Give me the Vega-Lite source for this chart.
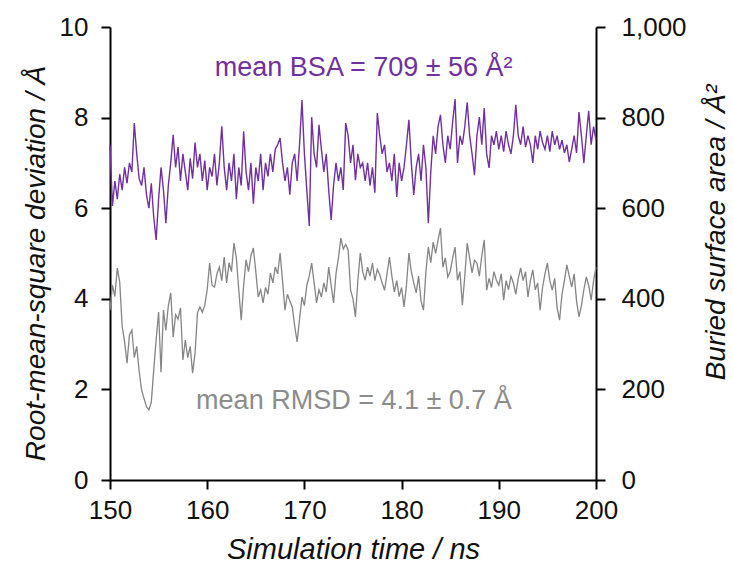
{
  "$schema": "https://vega.github.io/schema/vega-lite/v6.json",
  "width": 486,
  "height": 453,
  "autosize": "none",
  "padding": {"left": 110, "top": 27, "right": 137, "bottom": 86},
  "background": "white",
  "config": {
    "view": {"stroke": null},
    "axis": {
      "grid": false,
      "domainColor": "#000000",
      "domainWidth": 2,
      "tickColor": "#000000",
      "tickWidth": 2,
      "tickSize": 9,
      "labelFont": "Liberation Sans",
      "labelFontSize": 26,
      "labelColor": "#111111",
      "labelFlush": false,
      "labelOverlap": false,
      "titleFont": "Liberation Sans",
      "titleFontSize": 28,
      "titleFontStyle": "italic",
      "titleFontWeight": "normal",
      "titleColor": "#111111"
    }
  },
  "data": {"values": [
    {"t":150.00,"rmsd":3.75,"bsa":740},{"t":150.25,"rmsd":4.30,"bsa":605},{"t":150.50,"rmsd":4.05,"bsa":660},{"t":150.75,"rmsd":4.68,"bsa":620},
    {"t":151.00,"rmsd":4.37,"bsa":675},{"t":151.25,"rmsd":3.40,"bsa":640},{"t":151.50,"rmsd":3.05,"bsa":690},{"t":151.75,"rmsd":2.58,"bsa":655},
    {"t":152.00,"rmsd":3.20,"bsa":700},{"t":152.25,"rmsd":3.31,"bsa":680},{"t":152.50,"rmsd":2.70,"bsa":788},{"t":152.75,"rmsd":2.95,"bsa":720},
    {"t":153.00,"rmsd":2.40,"bsa":665},{"t":153.25,"rmsd":1.99,"bsa":650},{"t":153.50,"rmsd":1.80,"bsa":690},{"t":153.75,"rmsd":1.62,"bsa":630},
    {"t":154.00,"rmsd":1.55,"bsa":600},{"t":154.25,"rmsd":1.72,"bsa":655},{"t":154.50,"rmsd":2.43,"bsa":580},{"t":154.75,"rmsd":3.10,"bsa":530},
    {"t":155.00,"rmsd":3.71,"bsa":620},{"t":155.25,"rmsd":2.38,"bsa":690},{"t":155.50,"rmsd":3.75,"bsa":640},{"t":155.75,"rmsd":3.30,"bsa":567},
    {"t":156.00,"rmsd":3.85,"bsa":650},{"t":156.25,"rmsd":4.13,"bsa":700},{"t":156.50,"rmsd":3.16,"bsa":762},{"t":156.75,"rmsd":3.65,"bsa":690},
    {"t":157.00,"rmsd":3.55,"bsa":735},{"t":157.25,"rmsd":3.80,"bsa":660},{"t":157.50,"rmsd":2.65,"bsa":720},{"t":157.75,"rmsd":3.09,"bsa":680},
    {"t":158.00,"rmsd":2.70,"bsa":640},{"t":158.25,"rmsd":2.95,"bsa":710},{"t":158.50,"rmsd":2.36,"bsa":665},{"t":158.75,"rmsd":2.80,"bsa":745},
    {"t":159.00,"rmsd":3.69,"bsa":690},{"t":159.25,"rmsd":3.82,"bsa":720},{"t":159.50,"rmsd":3.70,"bsa":660},{"t":159.75,"rmsd":3.86,"bsa":705},
    {"t":160.00,"rmsd":4.20,"bsa":640},{"t":160.25,"rmsd":4.79,"bsa":690},{"t":160.50,"rmsd":4.30,"bsa":670},{"t":160.75,"rmsd":4.26,"bsa":720},
    {"t":161.00,"rmsd":4.55,"bsa":650},{"t":161.25,"rmsd":4.70,"bsa":700},{"t":161.50,"rmsd":4.40,"bsa":781},{"t":161.75,"rmsd":4.92,"bsa":690},
    {"t":162.00,"rmsd":4.35,"bsa":640},{"t":162.25,"rmsd":4.80,"bsa":700},{"t":162.50,"rmsd":4.60,"bsa":660},{"t":162.75,"rmsd":5.23,"bsa":720},
    {"t":163.00,"rmsd":4.90,"bsa":620},{"t":163.25,"rmsd":4.20,"bsa":690},{"t":163.50,"rmsd":3.53,"bsa":650},{"t":163.75,"rmsd":4.30,"bsa":770},
    {"t":164.00,"rmsd":4.86,"bsa":680},{"t":164.25,"rmsd":4.60,"bsa":640},{"t":164.50,"rmsd":4.95,"bsa":700},{"t":164.75,"rmsd":5.12,"bsa":610},
    {"t":165.00,"rmsd":4.60,"bsa":690},{"t":165.25,"rmsd":4.04,"bsa":660},{"t":165.50,"rmsd":4.20,"bsa":720},{"t":165.75,"rmsd":3.91,"bsa":640},
    {"t":166.00,"rmsd":4.25,"bsa":700},{"t":166.25,"rmsd":4.10,"bsa":670},{"t":166.50,"rmsd":4.57,"bsa":720},{"t":166.75,"rmsd":4.35,"bsa":680},
    {"t":167.00,"rmsd":4.70,"bsa":730},{"t":167.25,"rmsd":4.55,"bsa":740},{"t":167.50,"rmsd":5.01,"bsa":755},{"t":167.75,"rmsd":4.40,"bsa":700},
    {"t":168.00,"rmsd":3.75,"bsa":660},{"t":168.25,"rmsd":4.10,"bsa":690},{"t":168.50,"rmsd":3.95,"bsa":630},{"t":168.75,"rmsd":3.82,"bsa":700},
    {"t":169.00,"rmsd":3.40,"bsa":720},{"t":169.25,"rmsd":3.05,"bsa":660},{"t":169.50,"rmsd":3.55,"bsa":740},{"t":169.75,"rmsd":4.04,"bsa":839},
    {"t":170.00,"rmsd":3.85,"bsa":720},{"t":170.25,"rmsd":4.30,"bsa":640},{"t":170.50,"rmsd":4.50,"bsa":561},{"t":170.75,"rmsd":4.79,"bsa":801},
    {"t":171.00,"rmsd":4.35,"bsa":720},{"t":171.25,"rmsd":3.91,"bsa":690},{"t":171.50,"rmsd":4.20,"bsa":784},{"t":171.75,"rmsd":4.04,"bsa":730},
    {"t":172.00,"rmsd":4.35,"bsa":680},{"t":172.25,"rmsd":4.15,"bsa":720},{"t":172.50,"rmsd":4.70,"bsa":640},{"t":172.75,"rmsd":4.30,"bsa":574},
    {"t":173.00,"rmsd":3.91,"bsa":650},{"t":173.25,"rmsd":4.55,"bsa":700},{"t":173.50,"rmsd":4.90,"bsa":660},{"t":173.75,"rmsd":5.34,"bsa":690},
    {"t":174.00,"rmsd":5.10,"bsa":640},{"t":174.25,"rmsd":5.20,"bsa":788},{"t":174.50,"rmsd":5.08,"bsa":760},{"t":174.75,"rmsd":4.19,"bsa":700},
    {"t":175.00,"rmsd":4.00,"bsa":740},{"t":175.25,"rmsd":3.60,"bsa":662},{"t":175.50,"rmsd":4.40,"bsa":720},{"t":175.75,"rmsd":5.01,"bsa":690},
    {"t":176.00,"rmsd":4.60,"bsa":700},{"t":176.25,"rmsd":4.41,"bsa":660},{"t":176.50,"rmsd":4.70,"bsa":700},{"t":176.75,"rmsd":4.50,"bsa":650},
    {"t":177.00,"rmsd":4.79,"bsa":690},{"t":177.25,"rmsd":4.40,"bsa":634},{"t":177.50,"rmsd":4.65,"bsa":810},{"t":177.75,"rmsd":4.53,"bsa":760},
    {"t":178.00,"rmsd":4.35,"bsa":720},{"t":178.25,"rmsd":4.19,"bsa":740},{"t":178.50,"rmsd":4.55,"bsa":680},{"t":178.75,"rmsd":4.92,"bsa":700},
    {"t":179.00,"rmsd":4.50,"bsa":660},{"t":179.25,"rmsd":4.15,"bsa":720},{"t":179.50,"rmsd":4.40,"bsa":625},{"t":179.75,"rmsd":4.05,"bsa":700},
    {"t":180.00,"rmsd":4.25,"bsa":660},{"t":180.25,"rmsd":3.82,"bsa":690},{"t":180.50,"rmsd":4.30,"bsa":740},{"t":180.75,"rmsd":5.01,"bsa":795},
    {"t":181.00,"rmsd":4.60,"bsa":700},{"t":181.25,"rmsd":4.35,"bsa":629},{"t":181.50,"rmsd":4.13,"bsa":690},{"t":181.75,"rmsd":4.50,"bsa":720},
    {"t":182.00,"rmsd":3.95,"bsa":660},{"t":182.25,"rmsd":3.75,"bsa":740},{"t":182.50,"rmsd":4.60,"bsa":690},{"t":182.75,"rmsd":5.14,"bsa":567},
    {"t":183.00,"rmsd":4.80,"bsa":680},{"t":183.25,"rmsd":5.25,"bsa":760},{"t":183.50,"rmsd":5.00,"bsa":720},{"t":183.75,"rmsd":5.30,"bsa":780},
    {"t":184.00,"rmsd":5.56,"bsa":806},{"t":184.25,"rmsd":4.70,"bsa":740},{"t":184.50,"rmsd":4.90,"bsa":700},{"t":184.75,"rmsd":4.48,"bsa":760},
    {"t":185.00,"rmsd":4.60,"bsa":730},{"t":185.25,"rmsd":4.90,"bsa":790},{"t":185.50,"rmsd":5.14,"bsa":841},{"t":185.75,"rmsd":4.41,"bsa":700},
    {"t":186.00,"rmsd":4.60,"bsa":760},{"t":186.25,"rmsd":3.86,"bsa":740},{"t":186.50,"rmsd":4.50,"bsa":780},{"t":186.75,"rmsd":5.23,"bsa":834},
    {"t":187.00,"rmsd":4.90,"bsa":760},{"t":187.25,"rmsd":4.57,"bsa":720},{"t":187.50,"rmsd":4.85,"bsa":673},{"t":187.75,"rmsd":4.79,"bsa":760},
    {"t":188.00,"rmsd":4.50,"bsa":801},{"t":188.25,"rmsd":4.95,"bsa":740},{"t":188.50,"rmsd":5.30,"bsa":821},{"t":188.75,"rmsd":4.19,"bsa":720},
    {"t":189.00,"rmsd":4.45,"bsa":689},{"t":189.25,"rmsd":4.25,"bsa":760},{"t":189.50,"rmsd":4.60,"bsa":740},{"t":189.75,"rmsd":4.41,"bsa":770},
    {"t":190.00,"rmsd":4.30,"bsa":730},{"t":190.25,"rmsd":4.55,"bsa":760},{"t":190.50,"rmsd":3.97,"bsa":725},{"t":190.75,"rmsd":4.40,"bsa":770},
    {"t":191.00,"rmsd":4.20,"bsa":740},{"t":191.25,"rmsd":4.50,"bsa":720},{"t":191.50,"rmsd":4.35,"bsa":760},{"t":191.75,"rmsd":4.10,"bsa":828},
    {"t":192.00,"rmsd":4.45,"bsa":760},{"t":192.25,"rmsd":4.68,"bsa":740},{"t":192.50,"rmsd":4.40,"bsa":780},{"t":192.75,"rmsd":4.60,"bsa":735},
    {"t":193.00,"rmsd":4.04,"bsa":760},{"t":193.25,"rmsd":4.40,"bsa":740},{"t":193.50,"rmsd":4.64,"bsa":700},{"t":193.75,"rmsd":4.20,"bsa":760},
    {"t":194.00,"rmsd":4.35,"bsa":730},{"t":194.25,"rmsd":3.75,"bsa":770},{"t":194.50,"rmsd":4.25,"bsa":745},{"t":194.75,"rmsd":4.55,"bsa":730},
    {"t":195.00,"rmsd":4.79,"bsa":760},{"t":195.25,"rmsd":4.40,"bsa":725},{"t":195.50,"rmsd":4.19,"bsa":770},{"t":195.75,"rmsd":4.45,"bsa":740},
    {"t":196.00,"rmsd":3.80,"bsa":760},{"t":196.25,"rmsd":3.53,"bsa":730},{"t":196.50,"rmsd":4.10,"bsa":750},{"t":196.75,"rmsd":4.40,"bsa":722},
    {"t":197.00,"rmsd":4.75,"bsa":740},{"t":197.25,"rmsd":4.50,"bsa":702},{"t":197.50,"rmsd":4.26,"bsa":730},{"t":197.75,"rmsd":4.55,"bsa":760},
    {"t":198.00,"rmsd":3.95,"bsa":722},{"t":198.25,"rmsd":3.60,"bsa":812},{"t":198.50,"rmsd":3.85,"bsa":760},{"t":198.75,"rmsd":4.20,"bsa":700},
    {"t":199.00,"rmsd":4.48,"bsa":760},{"t":199.25,"rmsd":4.30,"bsa":815},{"t":199.50,"rmsd":3.97,"bsa":740},{"t":199.75,"rmsd":4.40,"bsa":780},
    {"t":200.00,"rmsd":4.70,"bsa":751}
  ]},
  "layer": [
    {
      "layer": [
        {
          "mark": {"type": "line", "color": "#858585", "strokeWidth": 1.3},
          "encoding": {
            "x": {
              "field": "t", "type": "quantitative",
              "scale": {"domain": [150, 200], "nice": false, "zero": false},
              "axis": {"values": [150, 160, 170, 180, 190, 200], "title": "Simulation time / ns", "titleFontSize": 29, "labelPadding": 8, "titlePadding": 12}
            },
            "y": {
              "field": "rmsd", "type": "quantitative",
              "scale": {"domain": [0, 10], "nice": false},
              "axis": {"values": [0, 2, 4, 6, 8, 10], "title": "Root-mean-square deviation / Å", "titleY": 236, "labelPadding": 13, "titlePadding": 9}
            }
          }
        },
        {
          "data": {"values": [{"label": "mean RMSD = 4.1 ± 0.7 Å"}]},
          "mark": {"type": "text", "font": "Liberation Sans", "fontSize": 27, "color": "#8c8c8c", "baseline": "middle", "align": "center"},
          "encoding": {
            "x": {"datum": 175.1, "type": "quantitative"},
            "y": {"datum": 1.74, "type": "quantitative"},
            "text": {"field": "label"}
          }
        },
        {
          "data": {"values": [{"label": "mean BSA = 709 ± 56 Å²"}]},
          "mark": {"type": "text", "font": "Liberation Sans", "fontSize": 27, "color": "#7030A0", "baseline": "middle", "align": "center"},
          "encoding": {
            "x": {"datum": 176.1, "type": "quantitative"},
            "y": {"datum": 9.09, "type": "quantitative"},
            "text": {"field": "label"}
          }
        }
      ]
    },
    {
      "mark": {"type": "line", "color": "#7030A0", "strokeWidth": 1.4},
      "encoding": {
        "x": {"field": "t", "type": "quantitative"},
        "y": {
          "field": "bsa", "type": "quantitative",
          "scale": {"domain": [0, 1000], "nice": false},
          "axis": {"orient": "right", "values": [0, 200, 400, 600, 800, 1000], "format": ",.0f", "title": "Buried surface area / Å²", "titleAngle": 270, "titleBaseline": "top", "titleY": 205, "labelPadding": 16, "titlePadding": 16}
        }
      }
    }
  ],
  "resolve": {"scale": {"y": "independent"}}
}
